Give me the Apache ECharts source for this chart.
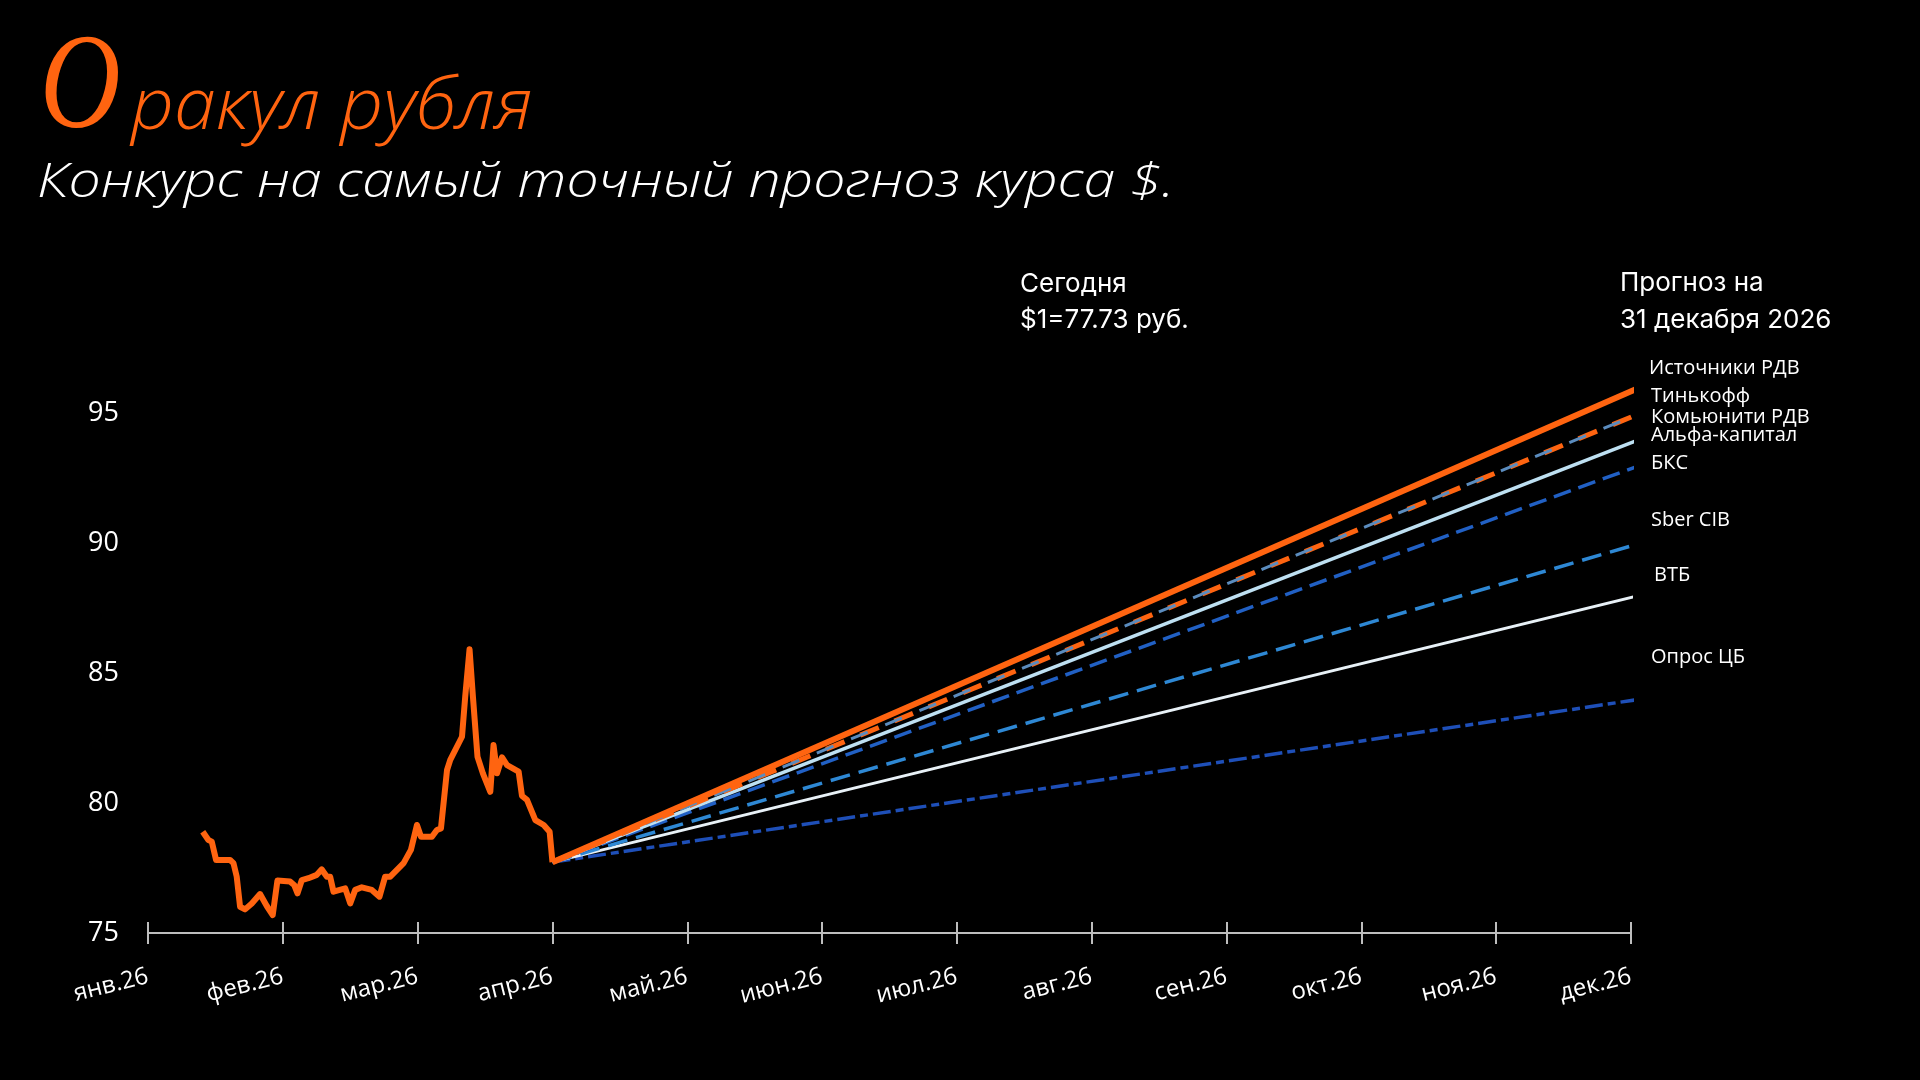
<!DOCTYPE html>
<html>
<head>
<meta charset="utf-8">
<script src="https://cdn.jsdelivr.net/npm/echarts@6/dist/echarts.min.js"></script>
<style>
html,body{margin:0;padding:0;background:#000;}
#chart{width:1920px;height:1080px;}
</style>
</head>
<body>
<div id="chart"></div>
<script>
// ---------- DATA ----------
const monthLabels = ['янв.26','фев.26','мар.26','апр.26','май.26','июн.26','июл.26','авг.26','сен.26','окт.26','ноя.26','дек.26'];
const yTickValues = [75, 80, 85, 90, 95];

// historical USD/RUB (x = months since 1 Jan 2026)
const histX = [0.406,0.448,0.473,0.505,0.609,0.634,0.658,0.683,0.72,0.77,0.831,0.881,0.925,0.96,1.054,1.084,1.109,1.141,1.19,1.252,1.289,1.327,1.351,1.376,1.463,1.5,1.537,1.586,1.66,1.717,1.759,1.797,1.896,1.95,1.995,2.025,2.106,2.143,2.173,2.218,2.242,2.329,2.353,2.385,2.41,2.444,2.484,2.539,2.563,2.589,2.626,2.663,2.749,2.774,2.811,2.873,2.935,2.979,3.0];
const histY = [78.90,78.58,78.52,77.81,77.81,77.69,77.17,76.01,75.91,76.14,76.50,76.04,75.69,77.02,76.98,76.85,76.53,77.04,77.11,77.24,77.45,77.17,77.17,76.59,76.72,76.14,76.66,76.76,76.66,76.40,77.17,77.17,77.69,78.20,79.16,78.71,78.71,78.97,79.03,81.28,81.67,82.56,84.11,85.93,84.11,81.79,81.15,80.44,82.24,81.15,81.77,81.47,81.22,80.28,80.13,79.35,79.16,78.90,77.73];

const todayX = 3;
const todayRate = 77.73;
const forecastEndX = 11.06;

const forecastNames  = ['Источники РДВ','Тинькофф','Комьюнити РДВ','Альфа-капитал','БКС','Sber CIB','ВТБ','Опрос ЦБ'];
const forecastValues = [96, 95, 95, 94, 93, 90, 88, 84];

const todayText = ['Сегодня', '$1=77.73 руб.'];
const horizonText = ['Прогноз на', '31 декабря 2026'];
const titleInitial = 'О';
const titleRest = 'ракул рубля';
const subtitle = 'Конкурс на самый точный прогноз курса $.';

// ---------- STYLES / LAYOUT ----------
const ORANGE = '#FF6410';
const forecastStyles = [
  {color: ORANGE,    width: 6,   type: 'solid', z: 9},
  {color: ORANGE,    width: 5,   type: [20, 17], z: 7},
  {color: '#5B8CBE', width: 3,   type: [18, 19], dashOffset: 10, z: 8},
  {color: '#BEE0F2', width: 3.5, type: 'solid', z: 6},
  {color: '#2160C4', width: 3.5, type: [18, 8], z: 5},
  {color: '#2E88D4', width: 3.5, type: [20, 9], z: 4},
  {color: '#E8F1F7', width: 3,   type: 'solid', z: 3},
  {color: '#1E4FB8', width: 3.5, type: [18, 5, 8, 5], z: 2}
];
const labelLayout = [
  {x: 1649, y: 368}, {x: 1651, y: 396}, {x: 1651, y: 417}, {x: 1651, y: 435},
  {x: 1651, y: 463}, {x: 1651, y: 520}, {x: 1654, y: 575}, {x: 1651, y: 657}
];

const series = [];
forecastNames.forEach((name, i) => {
  const st = forecastStyles[i];
  series.push({
    name: name,
    type: 'line',
    xAxisIndex: 0,
    data: [[todayX, todayRate], [forecastEndX, forecastValues[i]]],
    showSymbol: false,
    clip: false,
    z: st.z,
    lineStyle: {color: st.color, width: st.width, type: st.type, dashOffset: st.dashOffset || 0, cap: 'butt'},
    silent: true
  });
});
series.push({
  name: 'USD/RUB',
  type: 'line',
  xAxisIndex: 0,
  data: histX.map((x, i) => [x, histY[i]]),
  showSymbol: false,
  z: 10,
  lineStyle: {color: ORANGE, width: 6, join: 'round'},
  silent: true
});

const graphic = [
  {type: 'text', x: 40, y: 91, scaleX: 0.82, style: {text: titleInitial, font: 'italic 136px "Liberation Serif"', fill: ORANGE, textVerticalAlign: 'middle'}},
  {type: 'text', x: 131, y: 109, scaleX: 1.06, style: {text: titleRest, font: 'italic 300 71px "Open Sans"', fill: ORANGE, textVerticalAlign: 'middle'}},
  {type: 'text', x: 37, y: 183, scaleX: 1.19, style: {text: subtitle, font: 'italic 300 48px "Open Sans"', fill: '#fff', textVerticalAlign: 'middle'}},
  {type: 'text', x: 1020, y: 284, style: {text: todayText[0], font: '26px Inter', fill: '#fff', textVerticalAlign: 'middle'}},
  {type: 'text', x: 1020, y: 320, style: {text: todayText[1], font: '26px Inter', fill: '#fff', textVerticalAlign: 'middle'}},
  {type: 'text', x: 1620, y: 283, style: {text: horizonText[0], font: '26px Inter', fill: '#fff', textVerticalAlign: 'middle'}},
  {type: 'text', x: 1620, y: 320, style: {text: horizonText[1], font: '26px Inter', fill: '#fff', textVerticalAlign: 'middle'}}
];
forecastNames.forEach((name, i) => {
  graphic.push({type: 'text', x: labelLayout[i].x, y: labelLayout[i].y,
    style: {text: name, font: '20px "Open Sans"', fill: '#fff', textVerticalAlign: 'middle'}});
});

const chart = echarts.init(document.getElementById('chart'));
chart.setOption({
  backgroundColor: '#000',
  animation: false,
  grid: {left: 148, right: 289, top: 284, bottom: 147},
  xAxis: [
    {
      type: 'value', min: 0, max: 11, interval: 1,
      axisLine: {lineStyle: {color: '#BDBDBD', width: 2}},
      axisTick: {show: true, length: 11, lineStyle: {color: '#BDBDBD', width: 2}},
      splitLine: {show: false},
      axisLabel: {
        formatter: v => monthLabels[v] || '',
        rotate: 14, margin: 43, color: '#fff', fontSize: 24, fontFamily: 'Open Sans'
      }
    },
    {
      type: 'value', min: 0, max: 11, interval: 1, position: 'bottom',
      axisLine: {show: false},
      axisTick: {show: true, inside: true, length: 11, lineStyle: {color: '#BDBDBD', width: 2}},
      splitLine: {show: false},
      axisLabel: {show: false}
    }
  ],
  yAxis: {
    type: 'value', min: 75, max: 100, interval: 5,
    axisLine: {show: false}, axisTick: {show: false}, splitLine: {show: false},
    axisLabel: {
      formatter: v => (yTickValues.indexOf(v) >= 0 ? String(v) : ''),
      color: '#fff', fontSize: 27, fontFamily: 'Open Sans', margin: 29
    }
  },
  series: series,
  graphic: graphic
});
</script>
</body>
</html>
